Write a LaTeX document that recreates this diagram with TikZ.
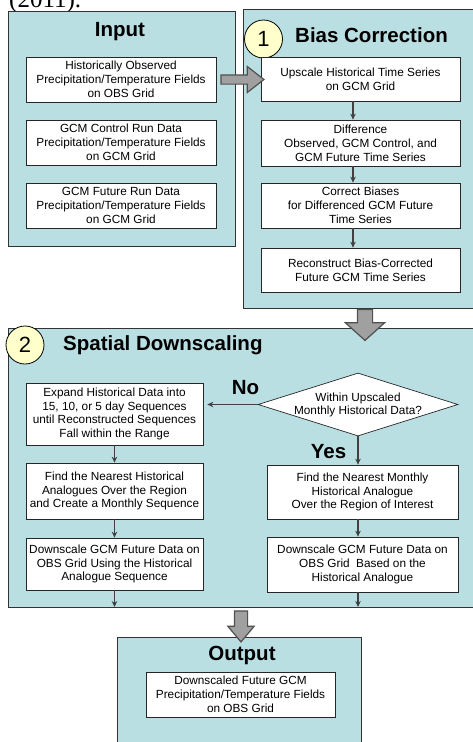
\documentclass[tikz,border=0pt]{standalone}
\usepackage{fontspec}
\setmainfont{Liberation Sans}
\newfontfamily\seriffont{Liberation Serif}
\usetikzlibrary{shapes.geometric,shapes.arrows,arrows.meta}
\definecolor{panelblue}{RGB}{186,223,227}
\definecolor{numyellow}{RGB}{255,255,204}
\definecolor{arrowgray}{RGB}{160,160,160}
\definecolor{arrowedge}{RGB}{80,80,80}
\definecolor{linkgray}{RGB}{64,64,64}
\begin{document}
\begin{tikzpicture}[x=1pt,y=-1pt,
  panel/.style={draw=black!80, line width=0.8pt, fill=panelblue, rectangle, inner sep=0pt, outer sep=0pt, anchor=north west},
  stepbox/.style={draw=black!85, line width=0.7pt, fill=white, align=center, inner sep=0pt,
    font=\fontsize{11.8}{13.8}\selectfont},
  titletext/.style={font=\bfseries\fontsize{20.5}{22}\selectfont, inner sep=0pt},
  numcirc/.style={circle, draw=black, line width=0.8pt, fill=numyellow, minimum size=38pt, inner sep=0pt,
    font=\fontsize{22}{22}\selectfont},
  link/.style={draw=linkgray, line width=1.1pt, -{Stealth[length=6pt,width=5.5pt]}},
  blockarrow/.style={single arrow, draw=arrowedge, line width=1.2pt, fill=arrowgray,
    single arrow head indent=0pt, inner xsep=0pt, anchor=center}
]
\useasboundingbox (0,0) rectangle (473,742);

% cut-off caption fragment at the top
\node[anchor=base west, inner sep=0pt, font=\seriffont\fontsize{25}{25}\selectfont] (cap) at (9,7) {(2011).};

% panels
\node[panel, minimum width=227pt, minimum height=235pt] (inp) at (8,11) {};
\node[panel, minimum width=236pt, minimum height=299pt] (bias) at (243,9) {};
\node[panel, minimum width=470pt, minimum height=279pt] (sp) at (8,328) {};
\node[panel, minimum width=244pt, minimum height=125pt] (outp) at (117,637) {};

% titles
\node[titletext] (tin) at (120,32) {Input};
\node[titletext, anchor=west] (tbias) at (295,35) {Bias Correction};
\node[titletext, anchor=west] (tsp) at (63,345) {Spatial Downscaling};
\node[titletext] (tout) at (242,655) {Output};

% number circles
\node[numcirc] (c1) at (263.5,39) {1};
\node[numcirc] (c2) at (25,345) {2};

% input boxes
\node[stepbox, minimum width=190pt, minimum height=45pt] (in1) at (121,79.5)
  {Historically Observed\\Precipitation/Temperature Fields\\on OBS Grid};
\node[stepbox, minimum width=190pt, minimum height=45pt] (in2) at (121,142.5)
  {GCM Control Run Data\\Precipitation/Temperature Fields\\on GCM Grid};
\node[stepbox, minimum width=190pt, minimum height=45pt] (in3) at (121,205.5)
  {GCM Future Run Data\\Precipitation/Temperature Fields\\on GCM Grid};

% bias correction boxes
\node[stepbox, minimum width=199pt, minimum height=44pt] (u1) at (360.5,79)
  {Upscale Historical Time Series\\on GCM Grid};
\node[stepbox, minimum width=199pt, minimum height=46pt] (u2) at (360.5,143)
  {Difference\\Observed, GCM Control, and\\GCM Future Time Series};
\node[stepbox, minimum width=199pt, minimum height=45pt] (u3) at (360.5,205.5)
  {Correct Biases\\for Differenced GCM Future\\Time Series};
\node[stepbox, minimum width=199pt, minimum height=44pt] (u4) at (360.5,270)
  {Reconstruct Bias-Corrected\\Future GCM Time Series};

% spatial downscaling
\node[diamond, draw=black!85, line width=0.7pt, fill=white, minimum width=200pt, minimum height=63pt, inner sep=0pt] (dec) at (358,404.5) {};
\node[align=center, inner sep=0pt, font=\fontsize{11.8}{13.8}\selectfont] (dectext) at (358,405)
  {Within Upscaled\\Monthly Historical Data?};

\node[stepbox, minimum width=177pt, minimum height=62pt] (l1) at (114.5,414)
  {Expand Historical Data into\\15, 10, or 5 day Sequences\\until Reconstructed Sequences\\Fall within the Range};
\node[stepbox, minimum width=177pt, minimum height=56pt] (l2) at (114.5,491)
  {Find the Nearest Historical\\Analogues Over the Region\\and Create a Monthly Sequence};
\node[stepbox, minimum width=177pt, minimum height=52pt] (l3) at (114.5,564)
  {Downscale GCM Future Data on\\OBS Grid Using the Historical\\Analogue Sequence};

\node[stepbox, minimum width=191pt, minimum height=54pt] (r1) at (362.5,492)
  {Find the Nearest Monthly\\Historical Analogue\\Over the Region of Interest};
\node[stepbox, minimum width=191pt, minimum height=55pt] (r2) at (362.5,564.5)
  {Downscale GCM Future Data on\\OBS Grid\ \ Based on the\\Historical Analogue};

\node[titletext] (no) at (245.5,388) {No};
\node[titletext] (yes) at (328.5,452) {Yes};

% output box
\node[stepbox, minimum width=189pt, minimum height=45pt] (o1) at (240.5,694.5)
  {Downscaled Future GCM\\Precipitation/Temperature Fields\\on OBS Grid};

% small connectors
\coordinate (bx) at (353,0);
\draw[link] (u1.south -| bx) -- (u2.north -| bx);
\draw[link] (u2.south -| bx) -- (u3.north -| bx);
\draw[link] (u3.south -| bx) -- (u4.north -| bx);

\draw[link] (l1.south) -- (l2.north);
\draw[link] (l2.south) -- (l3.north);
\draw[link] (l3.south) -- (l3.south |- sp.south);

\coordinate (rx) at (dec.south);
\draw[link] (dec.south) -- (dec.south |- r1.north);
\draw[link] (r1.south -| rx) -- (r2.north -| rx);
\draw[link] (r2.south -| rx) -- (rx |- sp.south);

\draw[link, shorten >=4pt] (dec.west) -- (dec.west -| l1.east);

% block arrows between panels
\node[blockarrow, minimum height=43pt, inner ysep=4pt, single arrow head extend=8.5pt,
  single arrow tip angle=76] (a1) at (239.5,79.5) {};
\node[blockarrow, rotate=-90, minimum height=31pt, inner ysep=7pt, single arrow head extend=12pt,
  single arrow tip angle=96] (a2) at (365,321.5) {};
\node[blockarrow, rotate=-90, minimum height=31pt, inner ysep=6pt, single arrow head extend=6.5pt,
  single arrow tip angle=80] (a3) at (241,622.5) {};
\end{tikzpicture}
\end{document}
